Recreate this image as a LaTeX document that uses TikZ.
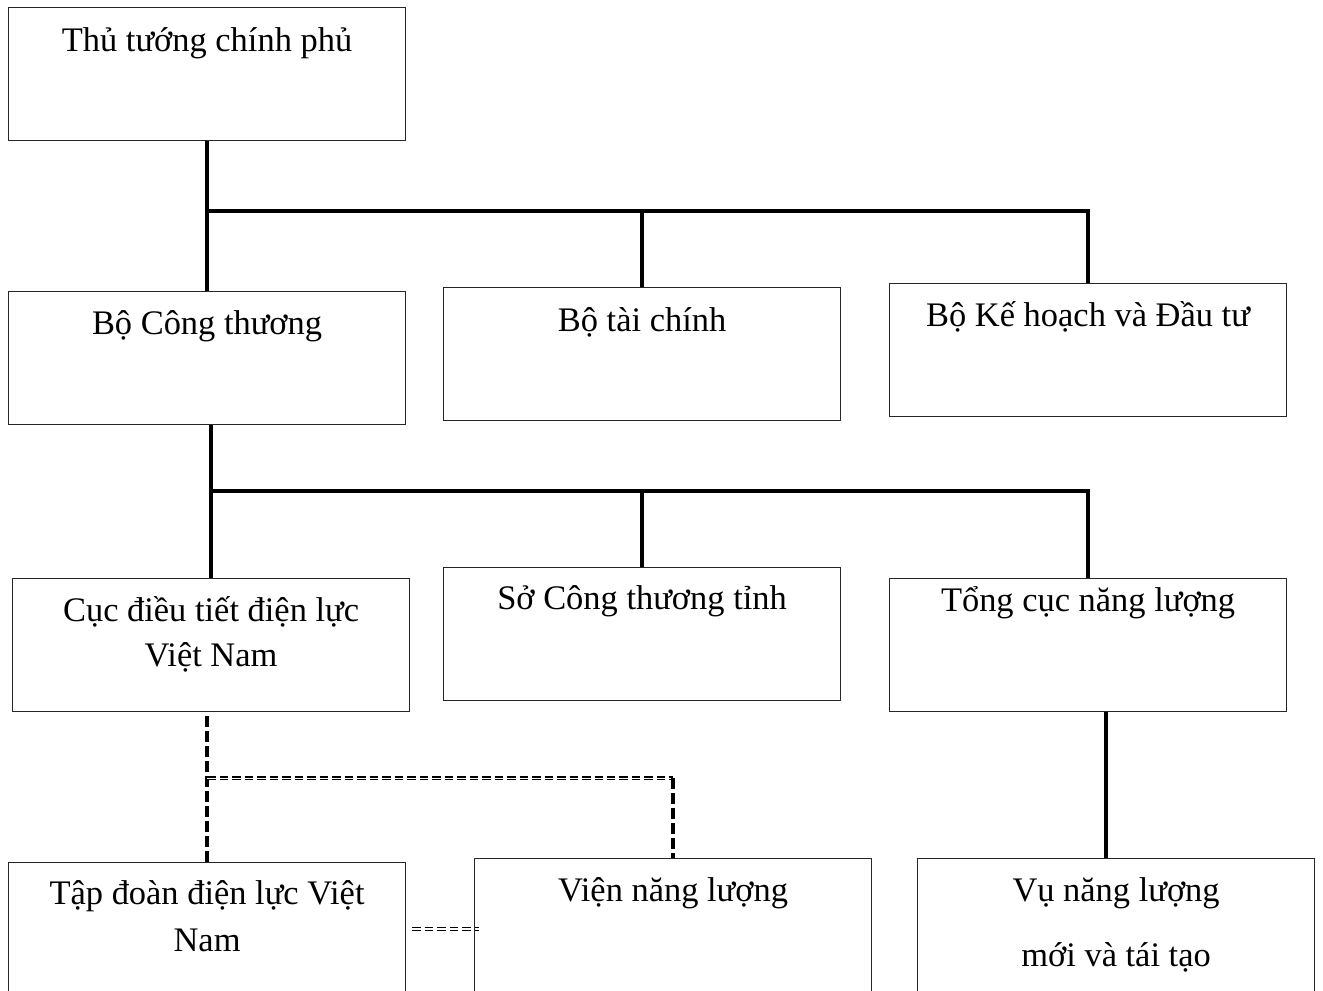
\documentclass[tikz,border=0pt]{standalone}
\usepackage{fontspec}
\setmainfont{Liberation Serif}
\usetikzlibrary{calc}
\newcommand{\noidung}[4]{\parbox[t][#1][t]{7.94cm}{\centering\fontsize{19.6}{#2}\selectfont\rule{0pt}{#3}#4}}
\begin{document}
\begin{tikzpicture}[x=0.02cm,y=-0.02cm,
  hop/.style={draw=black!85, line width=0.7pt, inner sep=0pt, anchor=north west},
  noi/.style={line width=2.3pt},
  netdut/.style={line width=2.3pt, dash pattern=on 0.22cm off 0.08cm},
  netdoi/.style={double, line width=0.9pt, double distance=0.8pt, dash pattern=on 0.17cm off 0.08cm}]
\clip (0,0) rectangle (1323,991);
% cac hop
\node[hop] (thu) at (8,7) {\noidung{2.66cm}{24pt}{0.88cm}{Thủ tướng chính phủ}};
\node[hop] (bo_ct) at (8,291) {\noidung{2.66cm}{24pt}{0.86cm}{Bộ Công thương}};
\node[hop] (bo_tc) at (443,287) {\noidung{2.66cm}{24pt}{0.87cm}{Bộ tài chính}};
\node[hop] (bo_kh) at (889,283) {\noidung{2.66cm}{24pt}{0.86cm}{Bộ Kế hoạch và Đầu tư}};
\node[hop] (cuc) at (12,578) {\noidung{2.66cm}{26pt}{0.85cm}{Cục điều tiết điện lực\\Việt Nam}};
\node[hop] (so_ct) at (443,567) {\noidung{2.66cm}{24pt}{0.84cm}{Sở Công thương tỉnh}};
\node[hop] (tong) at (889,578) {\noidung{2.66cm}{24pt}{0.66cm}{Tổng cục năng lượng}};
\node[hop] (tapdoan) at (8,862) {\noidung{2.66cm}{26.7pt}{0.84cm}{Tập đoàn điện lực Việt\\Nam}};
\node[hop] (vien) at (474,858) {\noidung{2.8cm}{24pt}{0.86cm}{Viện năng lượng}};
\node[hop] (vu) at (917,858) {\noidung{2.8cm}{37pt}{0.86cm}{Vụ năng lượng\\mới và tái tạo}};
% duong noi cap 1
\draw[noi] (thu.south) -- (bo_ct.north);
\path (thu.south) ++(0,70) coordinate (re1);
\draw[noi] (re1) -| (bo_kh.north);
\draw[noi] (bo_tc.north) -- (bo_tc.north |- re1);
% duong noi cap 2
\draw[noi] (cuc.north) -- (cuc.north |- bo_ct.south);
\path (cuc.north |- bo_ct.south) ++(0,66) coordinate (re2);
\draw[noi] (re2) -| (tong.north);
\draw[noi] (so_ct.north) -- (so_ct.north |- re2);
\draw[noi] ([xshift=-0.2cm]vu.north) -- ([xshift=-0.2cm]vu.north |- tong.south);
% net dut
\draw[netdut] (tapdoan.north) -- (tapdoan.north |- cuc.south);
\path (tapdoan.north |- cuc.south) ++(0,66) coordinate (re3);
\draw[netdoi] (re3) -- (re3 -| vien.north);
\draw[netdut] (re3 -| vien.north) -- (vien.north);
\draw[netdoi] ([xshift=0.12cm]tapdoan.east) -- ([xshift=0.1cm]tapdoan.east -| vien.west);
\end{tikzpicture}
\end{document}
